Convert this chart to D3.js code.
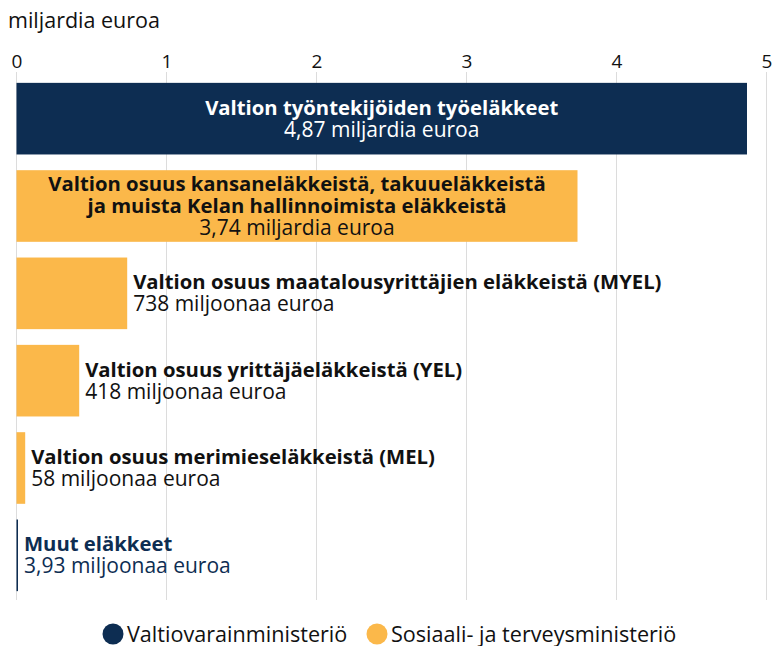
<!DOCTYPE html>
<html>
<head>
<meta charset="utf-8">
<script src="https://cdn.jsdelivr.net/npm/d3@7"></script>
<style>
  body { margin: 0; background: #fff; }
  svg text { font-family: "Open Sans", Lato, sans-serif; }
</style>
</head>
<body>
<svg id="chart" width="773" height="646"></svg>
<script>
// data
var labels = [
  ["Valtion työntekijöiden työeläkkeet"],
  ["Valtion osuus kansaneläkkeistä, takuueläkkeistä", "ja muista Kelan hallinnoimista eläkkeistä"],
  ["Valtion osuus maatalousyrittäjien eläkkeistä (MYEL)"],
  ["Valtion osuus yrittäjäeläkkeistä (YEL)"],
  ["Valtion osuus merimieseläkkeistä (MEL)"],
  ["Muut eläkkeet"]
];
var values = [4.87, 3.74, 0.738, 0.418, 0.058, 0.00393];
var valueTexts = ["4,87 miljardia euroa", "3,74 miljardia euroa", "738 miljoonaa euroa",
                  "418 miljoonaa euroa", "58 miljoonaa euroa", "3,93 miljoonaa euroa"];
var ministry = [0, 1, 1, 1, 1, 0];
var ministries = ["Valtiovarainministeriö", "Sosiaali- ja terveysministeriö"];
var xTicks = [0, 1, 2, 3, 4, 5];

var colors = ["#0d2d52", "#fbb84a"];

var svg = d3.select("#chart");

var x = d3.scaleLinear().domain([0, 5]).range([16.5, 766.5]);
var y = d3.scaleBand().domain(d3.range(values.length)).range([75, 599]).paddingInner(0.18).paddingOuter(0.09);

// unit title
svg.append("text")
  .attr("x", 8).attr("y", 28)
  .attr("font-size", 21.5).attr("fill", "#111")
  .text("miljardia euroa");

// grid + ticks
var xAxis = d3.axisTop(x).tickValues(xTicks).tickSize(0).tickPadding(0).tickFormat(d3.format("d"));
var gx = svg.append("g").attr("transform", "translate(0,68)").call(xAxis);
gx.select(".domain").remove();
gx.selectAll("text").attr("font-size", 19).attr("fill", "#111").attr("font-family", "Lato, sans-serif");

svg.append("g").selectAll("line")
  .data(xTicks).enter().append("line")
  .attr("x1", d => x(d)).attr("x2", d => x(d))
  .attr("y1", 72).attr("y2", 600)
  .attr("stroke", "#dcdcdc").attr("stroke-width", 1);

// bars
svg.append("g").selectAll("rect")
  .data(values).enter().append("rect")
  .attr("x", x(0))
  .attr("y", (d, i) => y(i))
  .attr("width", d => Math.max(x(d) - x(0), 1.5))
  .attr("height", y.bandwidth())
  .attr("fill", (d, i) => colors[ministry[i]]);

// labels
values.forEach(function(v, i) {
  var inside = v > 2;
  var lines = labels[i];
  var n = lines.length + 1;
  var lh = 21.8;
  var cy = y(i) + y.bandwidth() / 2;
  var firstBase = cy - (n - 1) * lh / 2 + 7;
  var tx = inside ? (x(0) + x(v)) / 2 : Math.max(x(v), x(0) + 1.5) + 6;
  var fill = inside ? (ministry[i] == 0 ? "#fff" : "#111") : (ministry[i] == 0 ? colors[0] : "#111");
  var t = svg.append("text")
    .attr("x", tx)
    .attr("text-anchor", inside ? "middle" : "start")
    .attr("font-size", 20.3)
    .attr("fill", fill);
  lines.forEach(function(l, k) {
    t.append("tspan").attr("x", tx).attr("y", firstBase + k * lh)
      .attr("font-weight", "bold").text(l);
  });
  t.append("tspan").attr("x", tx).attr("y", firstBase + lines.length * lh)
    .attr("font-size", 21).text(valueTexts[i]);
});

// legend
var legend = svg.append("g").attr("transform", "translate(0,634)");
var lx = [113, 377];
ministries.forEach(function(m, i) {
  legend.append("circle").attr("cx", lx[i]).attr("cy", 0).attr("r", 10.5).attr("fill", colors[i]);
  legend.append("text").attr("x", lx[i] + 14).attr("y", 7.5)
    .attr("font-size", 21.6).attr("fill", "#111").text(m);
});
</script>
</body>
</html>
